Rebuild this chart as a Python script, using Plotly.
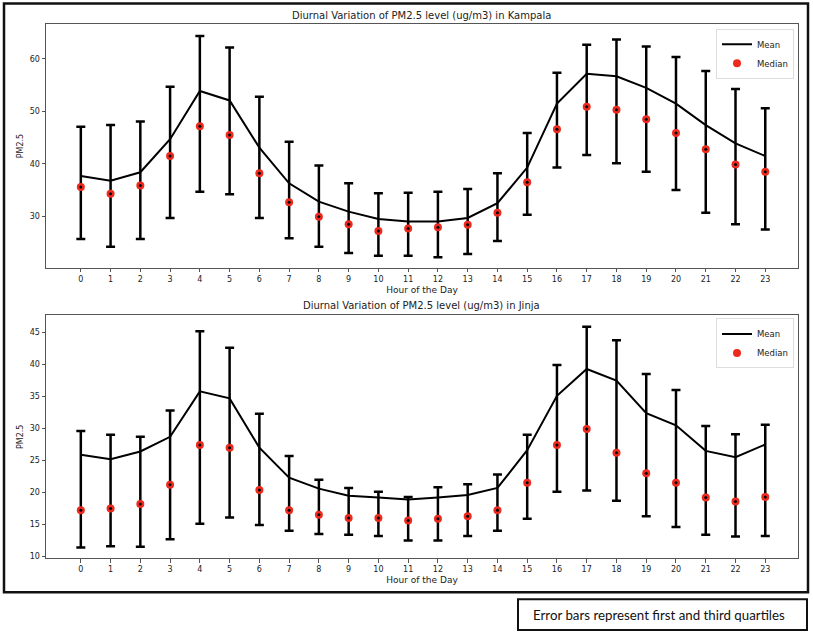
import plotly.graph_objects as go

hours = list(range(24))

kla_mean = [37.7, 36.8, 38.4, 44.7, 53.9, 52.1, 43.1, 36.3, 32.8, 30.9, 29.5, 29.0,
            29.0, 29.7, 32.5, 39.3, 51.5, 57.2, 56.7, 54.5, 51.5, 47.4, 43.9, 41.5]
kla_median = [35.6, 34.3, 35.9, 41.5, 47.2, 45.5, 38.2, 32.7, 29.9, 28.5, 27.2, 27.7,
              27.9, 28.4, 30.7, 36.5, 46.6, 50.9, 50.3, 48.5, 45.9, 42.8, 39.9, 38.5]
kla_q1 = [25.7, 24.2, 25.7, 29.7, 34.7, 34.2, 29.7, 25.8, 24.2, 23.0, 22.5, 22.5,
          22.2, 22.8, 25.3, 30.3, 39.3, 41.7, 40.1, 38.5, 35.0, 30.7, 28.5, 27.5]
kla_q3 = [47.1, 47.4, 48.1, 54.7, 64.4, 62.2, 52.8, 44.2, 39.7, 36.3, 34.4, 34.5,
          34.7, 35.2, 38.2, 45.9, 57.4, 62.7, 63.7, 62.4, 60.4, 57.7, 54.3, 50.6]

jin_mean = [25.9, 25.2, 26.4, 28.7, 35.8, 34.7, 27.0, 22.3, 20.6, 19.5, 19.2, 18.9,
            19.2, 19.6, 20.7, 26.6, 35.1, 39.3, 37.5, 32.4, 30.5, 26.5, 25.5, 27.5]
jin_median = [17.2, 17.5, 18.2, 21.2, 27.4, 27.0, 20.4, 17.2, 16.5, 16.0, 16.0, 15.6,
              15.9, 16.3, 17.2, 21.5, 27.4, 29.9, 26.2, 23.0, 21.5, 19.2, 18.6, 19.3]
jin_q1 = [11.4, 11.6, 11.5, 12.7, 15.1, 16.1, 14.9, 14.0, 13.5, 13.4, 13.2, 12.5,
          12.5, 13.2, 14.0, 15.9, 20.1, 20.3, 18.7, 16.3, 14.6, 13.4, 13.1, 13.2]
jin_q3 = [29.6, 29.0, 28.7, 32.8, 45.2, 42.6, 32.3, 25.7, 22.0, 20.7, 20.1, 19.3,
          20.8, 21.3, 22.8, 29.0, 39.9, 45.9, 43.8, 38.5, 36.0, 30.4, 29.1, 30.6]

titles = ["Diurnal Variation of PM2.5 level (ug/m3) in Kampala",
          "Diurnal Variation of PM2.5 level (ug/m3) in Jinja"]
x_label = "Hour of the Day"
y_label = "PM2.5"
footer = "Error bars represent first and third quartiles"

W, H = 813, 638
RED = "#ee2a1e"
TXT = "#222222"
FONT = "DejaVu Sans"

def fx(px):
    return px / W

def fy(py):
    return 1 - py / H

fig = go.Figure()

panels = [
    (kla_mean, kla_median, kla_q1, kla_q3, "x", "y", "legend"),
    (jin_mean, jin_median, jin_q1, jin_q3, "x2", "y2", "legend2"),
]
for mean, med, q1, q3, xa, ya, lg in panels:
    fig.add_trace(go.Scatter(x=hours, y=mean, mode="lines", name="Mean",
                             line=dict(color="black", width=2),
                             xaxis=xa, yaxis=ya, legend=lg))
    fig.add_trace(go.Scatter(
        x=hours, y=med, mode="markers", name="Median",
        marker=dict(color=RED, size=8),
        error_y=dict(type="data", symmetric=False,
                     array=[b - m for b, m in zip(q3, med)],
                     arrayminus=[m - a for a, m in zip(q1, med)],
                     color="black", thickness=2.5, width=4.5),
        xaxis=xa, yaxis=ya, legend=lg))
    fig.add_trace(go.Scatter(x=hours, y=med, mode="markers", showlegend=False,
                             marker=dict(color="black", size=3),
                             hoverinfo="skip", xaxis=xa, yaxis=ya, legend=lg))

axis_common = dict(showline=True, mirror=True, linecolor="#555555", linewidth=1,
                   ticks="outside", ticklen=3.5, tickwidth=1, tickcolor="#555555",
                   showgrid=False, zeroline=False,
                   tickfont=dict(family=FONT, size=8, color=TXT))

xdom = [fx(46), fx(798)]
fig.update_layout(
    width=W, height=H, autosize=False,
    margin=dict(l=0, r=0, t=0, b=0),
    paper_bgcolor="white", plot_bgcolor="white",
    font=dict(family=FONT, color=TXT),
    xaxis=dict(domain=xdom, range=[-1.17, 24.1], tickvals=hours, anchor="y",
               title=dict(text=x_label, font=dict(size=9, color=TXT), standoff=3),
               **axis_common),
    yaxis=dict(domain=[fy(269), fy(24.5)], range=[20.2, 66.6], tickvals=[30, 40, 50, 60],
               anchor="x",
               title=dict(text=y_label, font=dict(size=8, color=TXT), standoff=4),
               **axis_common),
    xaxis2=dict(domain=xdom, range=[-1.17, 24.1], tickvals=hours, anchor="y2",
                title=dict(text=x_label, font=dict(size=9, color=TXT), standoff=3),
                **axis_common),
    yaxis2=dict(domain=[fy(561), fy(316.7)], range=[9.7, 47.7],
                tickvals=[10, 15, 20, 25, 30, 35, 40, 45], anchor="x2",
                title=dict(text=y_label, font=dict(size=8, color=TXT), standoff=4),
                **axis_common),
    legend=dict(x=fx(794), y=fy(29), xanchor="right", yanchor="top",
                bgcolor="white", bordercolor="#dddddd", borderwidth=1,
                font=dict(family=FONT, size=8.5, color=TXT), itemwidth=30,
                tracegroupgap=0),
    legend2=dict(x=fx(794), y=fy(320), xanchor="right", yanchor="top",
                 bgcolor="white", bordercolor="#dddddd", borderwidth=1,
                 font=dict(family=FONT, size=8.5, color=TXT), itemwidth=30,
                 tracegroupgap=0),
    showlegend=True,
)

fig.add_annotation(text=titles[0], x=fx(422), y=fy(16), xref="paper", yref="paper",
                   showarrow=False, font=dict(family=FONT, size=10, color=TXT),
                   xanchor="center", yanchor="middle")
fig.add_annotation(text=titles[1], x=fx(422), y=fy(306.5), xref="paper", yref="paper",
                   showarrow=False, font=dict(family=FONT, size=10, color=TXT),
                   xanchor="center", yanchor="middle")

# outer frame and footer box
fig.add_shape(type="rect", xref="paper", yref="paper",
              x0=fx(4), x1=fx(808), y0=fy(595), y1=fy(3.5),
              line=dict(color="#111111", width=2.5), fillcolor="rgba(0,0,0,0)", layer="above")
fig.add_shape(type="rect", xref="paper", yref="paper",
              x0=fx(518), x1=fx(807), y0=fy(633), y1=fy(602),
              line=dict(color="#111111", width=2), fillcolor="rgba(0,0,0,0)", layer="above")
fig.add_annotation(text=footer, x=fx(659), y=fy(617.5), xref="paper", yref="paper",
                   showarrow=False, font=dict(family="Lato", size=13.3, color="#111111"),
                   xanchor="center", yanchor="middle")

fig.write_html("out.html", config={"displayModeBar": False},
               post_script="document.body.style.margin='0';document.body.style.padding='0';"
                           "document.body.style.overflow='hidden';")
